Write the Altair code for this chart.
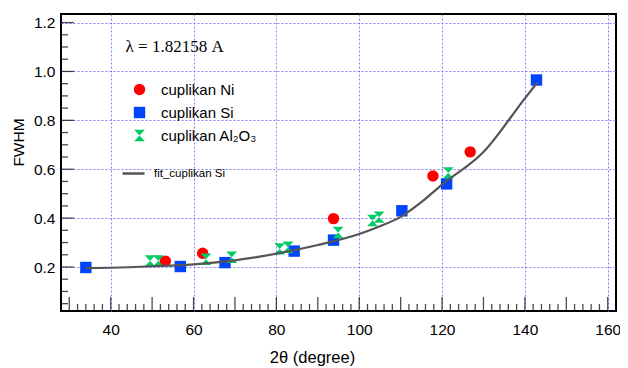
import altair as alt
import pandas as pd

# ---- data ----
series_names = ["cuplikan Ni", "cuplikan Si", "cuplikan Al₂O₃"]
series_colors = ["#ff0000", "#0044ff", "#00cc66"]

ni_x = [53.2, 62.2, 93.8, 117.8, 126.8]
ni_y = [0.224, 0.256, 0.398, 0.572, 0.671]

si_x = [34.0, 56.8, 67.6, 84.3, 93.8, 110.3, 121.1, 142.8]
si_y = [0.198, 0.202, 0.218, 0.265, 0.31, 0.43, 0.54, 0.965]

al_x = [49.5, 51.5, 63.0, 69.2, 80.8, 82.8, 94.9, 103.2, 104.8, 121.5]
al_y = [0.225, 0.225, 0.232, 0.24, 0.274, 0.281, 0.341, 0.39, 0.404, 0.585]

fit_name = "fit_cuplikan Si"
fit_x = [34, 40, 50, 60, 70, 80, 90, 100, 105, 110, 115, 120, 130, 140, 143]
fit_y = [0.195, 0.197, 0.203, 0.211, 0.227, 0.255, 0.29, 0.335, 0.367, 0.405, 0.465, 0.537, 0.67, 0.89, 0.955]

x_labels = [40, 60, 80, 100, 120, 140, 160]
x_major = list(range(30, 161, 10))
x_minor = [v for v in range(30, 161, 2) if v not in x_major]
y_major = [0.2, 0.4, 0.6, 0.8, 1.0, 1.2]
y_minor = [round(0.05 * i, 2) for i in range(1, 25) if round(0.05 * i, 2) not in y_major]

x_domain = [28, 162]
y_domain = [0.02, 1.235]

note_text = ["λ = 1.82158 A"]
note_x = [43.6]
note_y = [1.099]

# ---- tables ----
pts = pd.concat([
    pd.DataFrame({"series": series_names[1], "x": si_x, "y": si_y}),
    pd.DataFrame({"series": series_names[0], "x": ni_x, "y": ni_y}),
    pd.DataFrame({"series": series_names[2], "x": al_x, "y": al_y}),
], ignore_index=True)
pts["order"] = range(len(pts))
fit_df = pd.DataFrame({"name": fit_name, "x": fit_x, "y": fit_y})
note_df = pd.DataFrame({"x": note_x, "y": note_y, "t": note_text})

HOURGLASS = "M-0.95,-1L0.95,-1L-0.95,1L0.95,1Z"

xs = alt.Scale(domain=x_domain, nice=False, zero=False)
ys = alt.Scale(domain=y_domain, nice=False, zero=False)

x_axis = alt.Axis(values=x_labels, format="d", grid=True, ticks=False, domain=False,
                  labelPadding=11, title="2θ (degree)", titleX=251, titleY=51,
                  titleBaseline="alphabetic", titleFontSize=16.5)
y_axis = alt.Axis(values=y_major, format=".1f", grid=True, ticks=False, domain=False,
                  labelPadding=6, title="FWHM", titleX=-43, titleY=128,
                  titleAngle=270, titleBaseline="middle", titleAlign="center",
                  titleFontSize=15.5)

pt_legend = alt.Legend(title=None, orient="none", legendX=71, legendY=68,
                       labelFontSize=15, labelOffset=14, rowPadding=7,
                       padding=0, symbolSize=130, symbolStrokeWidth=0)

points = alt.Chart(pts).mark_point(filled=True, opacity=1, size=130).encode(
    x=alt.X("x:Q", scale=xs, axis=x_axis),
    y=alt.Y("y:Q", scale=ys, axis=y_axis),
    color=alt.Color("series:N", scale=alt.Scale(domain=series_names, range=series_colors),
                    legend=pt_legend),
    shape=alt.Shape("series:N", scale=alt.Scale(domain=series_names,
                                                range=["circle", "square", HOURGLASS]),
                    legend=pt_legend),
    order=alt.Order("order:Q"),
)

line = alt.Chart(fit_df).mark_line(strokeWidth=2.2, interpolate="monotone").encode(
    x=alt.X("x:Q", scale=xs),
    y=alt.Y("y:Q", scale=ys),
    stroke=alt.Stroke("name:N", scale=alt.Scale(domain=[fit_name], range=["#555555"]),
                      legend=alt.Legend(title=None, orient="none", legendX=60, legendY=147,
                                        labelFontSize=11.5, symbolType="stroke",
                                        symbolSize=484, symbolStrokeWidth=2.5,
                                        labelOffset=8, padding=0)),
)

note = alt.Chart(note_df).mark_text(align="left", baseline="middle",
                                    font="Liberation Serif", fontSize=17,
                                    color="black").encode(
    x=alt.X("x:Q", scale=xs), y=alt.Y("y:Q", scale=ys), text="t:N")

yt_major = alt.Chart(pd.DataFrame({"y": y_major})).mark_tick(
    orient="horizontal", size=13, thickness=1.3, xOffset=6.5, color="black").encode(
    x=alt.datum(x_domain[0]), y=alt.Y("y:Q", scale=ys))
yt_minor = alt.Chart(pd.DataFrame({"y": y_minor})).mark_tick(
    orient="horizontal", size=7, thickness=1.3, xOffset=3.5, color="black").encode(
    x=alt.datum(x_domain[0]), y=alt.Y("y:Q", scale=ys))
xt_major = alt.Chart(pd.DataFrame({"x": x_major})).mark_tick(
    orient="vertical", size=14, thickness=1.3, yOffset=-7, color="black").encode(
    y=alt.datum(y_domain[0]), x=alt.X("x:Q", scale=xs))
xt_minor = alt.Chart(pd.DataFrame({"x": x_minor})).mark_tick(
    orient="vertical", size=7, thickness=1.3, yOffset=-3.5, color="black").encode(
    y=alt.datum(y_domain[0]), x=alt.X("x:Q", scale=xs))

chart = alt.layer(yt_minor, yt_major, xt_minor, xt_major, points, line, note).properties(
    width=555, height=297,
    autosize=alt.AutoSizeParams(type="none"),
    padding={"left": 53, "top": 6, "right": 4, "bottom": 57},
).configure_view(
    stroke="black", strokeWidth=2
).configure_axis(
    labelFont="Liberation Sans", labelFontSize=15.5, labelColor="black",
    titleFont="Liberation Sans", titleFontWeight="normal", titleColor="black",
    gridColor="#8080ff", gridDash=[2, 2], gridWidth=1, gridOpacity=1,
).configure_legend(
    labelFont="Liberation Sans", labelColor="black",
)

chart.save("out.html", embed_options={"renderer": "svg", "actions": False})
